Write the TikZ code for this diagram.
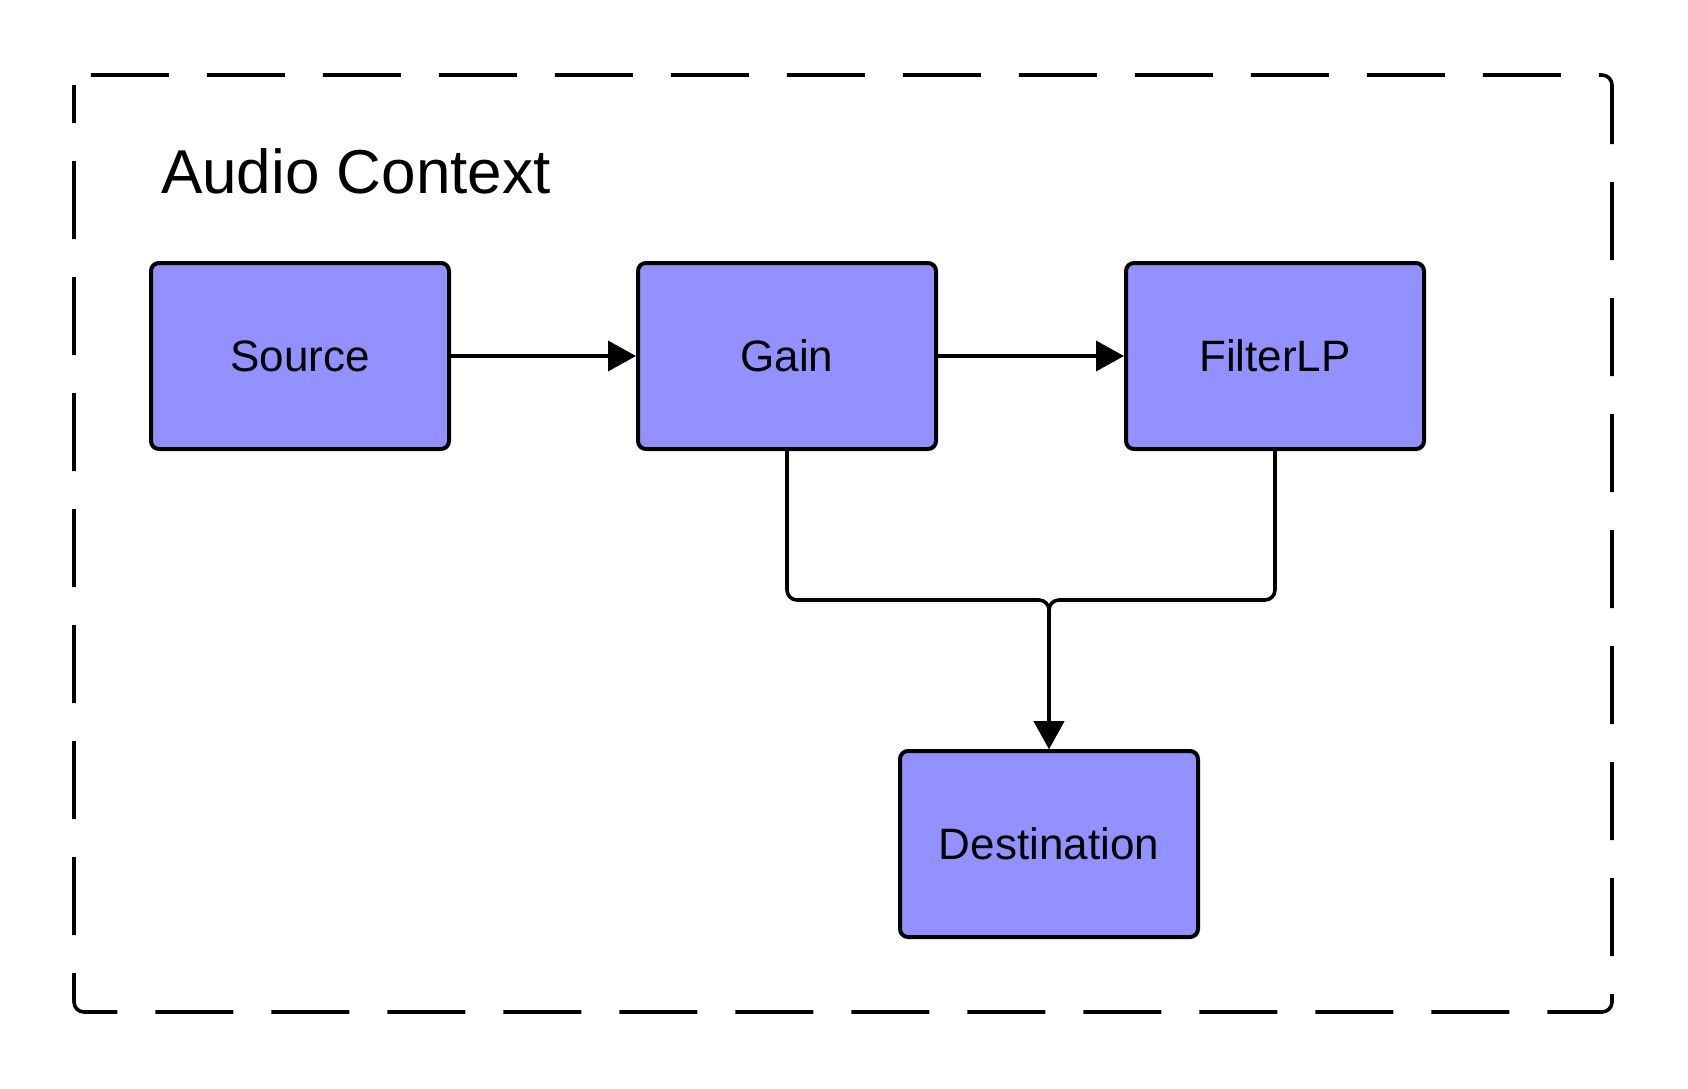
\documentclass[tikz,border=0pt]{standalone}
\usepackage{fontspec}
\setmainfont{Liberation Sans}
\usetikzlibrary{arrows.meta,positioning}
\definecolor{nodefill}{HTML}{9391FF}
\tikzset{
	audionode/.style={draw,line width=2pt,rounded corners=4pt,fill=nodefill,
		minimum width=149pt,minimum height=93pt,inner sep=0pt,
		font=\fontsize{22}{26}\selectfont},
	link/.style={line width=1.8pt,rounded corners=5pt,
		-{Triangle[length=14pt,width=15pt]}}
}

\begin{document}
\begin{tikzpicture}[x=0.5pt,y=-0.5pt]
	\useasboundingbox (0,0) rectangle (1688,1088);
	% frame of the context
	\draw[line width=1.8pt,dash pattern=on 39pt off 19pt,dash phase=20pt,rounded corners=5pt]
		(74,75) rectangle (1612,1012);
	\node[anchor=base west,font=\fontsize{31}{36}\selectfont] (title) at (154,193) {Audio Context};
	% audio nodes
	\node[audionode] (source) at (300,356) {Source};
	\node[audionode] (gain) at (787,356) {Gain};
	\node[audionode] (filter) at (1275,356) {FilterLP};
	\node[audionode] (dest) at (1049,844) {Destination};
	\coordinate (merge) at (1049,600);
	\draw[link] (source) -- (gain);
	\draw[link] (gain) -- (filter);
	\draw[link] (gain.south) |- (merge) -- (dest.north);
	\draw[link] (filter.south) |- (merge) -- (dest.north);
\end{tikzpicture}
\end{document}
